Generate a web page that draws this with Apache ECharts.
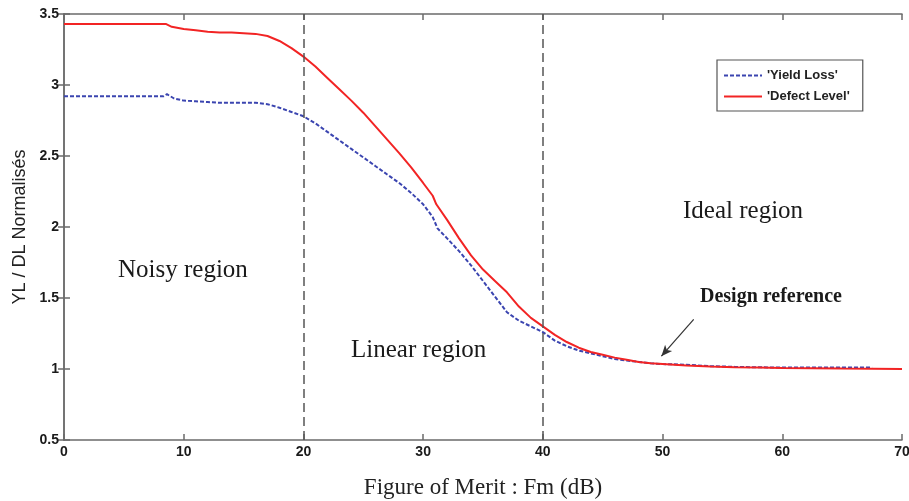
<!DOCTYPE html>
<html>
<head>
<meta charset="utf-8">
<script src="https://cdn.jsdelivr.net/npm/echarts@6/dist/echarts.min.js"></script>
<style>
  html, body { margin: 0; padding: 0; background: #fff; }
  #chart { width: 909px; height: 501px; }
</style>
</head>
<body>
<div id="chart"></div>
<script>
// Figure of merit (dB) and normalised yield loss / defect level
var fmYield = [0, 8.3, 8.6, 9.2, 10, 11, 12, 13, 14, 15, 16, 17, 18, 19, 20, 21, 22, 23, 24, 25,
  26, 27, 28, 29, 30, 30.8, 31.2, 32, 33, 34, 35, 36, 37, 38, 39, 40, 41, 42, 43, 44, 45, 46,
  47, 48, 49, 50, 52, 54, 56, 58, 60, 62, 64, 67.5]
var yieldLoss = [2.92, 2.92, 2.935, 2.905, 2.89, 2.885, 2.88, 2.875, 2.875, 2.875, 2.875, 2.865,
  2.84, 2.81, 2.78, 2.73, 2.67, 2.61, 2.55, 2.49, 2.43, 2.37, 2.31, 2.24, 2.16, 2.07, 1.99, 1.92,
  1.83, 1.73, 1.62, 1.51, 1.40, 1.34, 1.30, 1.26, 1.20, 1.16, 1.13, 1.11, 1.09, 1.07, 1.06, 1.05,
  1.04, 1.035, 1.03, 1.02, 1.015, 1.012, 1.01, 1.01, 1.01, 1.01]

var fmDefect = [0, 8.5, 9, 10, 11, 12, 13, 14, 15, 16, 17, 18, 19, 20, 21, 22, 23, 24, 25, 26, 27,
  28, 29, 30, 30.8, 31.1, 32, 33, 34, 35, 36, 37, 38, 39, 40, 41, 42, 43, 44, 45, 46, 47, 48, 49,
  50, 52, 54, 56, 58, 60, 65, 70]
var defectLevel = [3.43, 3.43, 3.41, 3.395, 3.385, 3.375, 3.37, 3.37, 3.365, 3.36, 3.345, 3.31,
  3.26, 3.20, 3.13, 3.05, 2.97, 2.89, 2.805, 2.71, 2.615, 2.52, 2.42, 2.31, 2.22, 2.16, 2.05, 1.92,
  1.80, 1.70, 1.62, 1.54, 1.44, 1.36, 1.30, 1.24, 1.19, 1.15, 1.12, 1.10, 1.08, 1.065, 1.05, 1.04,
  1.035, 1.025, 1.018, 1.013, 1.01, 1.007, 1.003, 1.0]

var regionBounds = [20, 40]
var arrowFrom = [52.6, 1.35]
var arrowTo = [49.9, 1.09]

function pairs(xs, ys) {
  return xs.map(function (x, i) { return [x, ys[i]] })
}

var chart = echarts.init(document.getElementById('chart'))

var axisGray = { color: '#6b6b6b', width: 1.5 }
var tickFont = { color: '#1a1a1a', fontFamily: 'Liberation Sans', fontWeight: 'bold', fontSize: 14 }
var serifFont = '25px "Liberation Serif"'

chart.setOption({
  animation: false,
  grid: { left: 64, top: 14, right: 7, bottom: 61, outerBoundsMode: 'none', containLabel: false },
  legend: {
    left: 717,
    top: 60,
    orient: 'vertical',
    itemWidth: 38,
    itemHeight: 12,
    itemGap: 8,
    padding: [9, 13, 8, 6],
    borderColor: '#555',
    borderWidth: 1.2,
    itemStyle: { opacity: 0 },
    textStyle: { fontFamily: 'Liberation Sans', fontWeight: 'bold', fontSize: 13, color: '#222' },
    data: ["'Yield Loss'", "'Defect Level'"]
  },
  xAxis: [
    {
      type: 'value', min: 0, max: 70, interval: 10,
      name: 'Figure of Merit : Fm (dB)',
      nameLocation: 'middle', nameGap: 36,
      nameTextStyle: { fontFamily: 'Liberation Serif', fontSize: 23, color: '#222' },
      axisLine: { lineStyle: axisGray },
      axisTick: { inside: true, length: 6, lineStyle: axisGray },
      axisLabel: Object.assign({ margin: 5 }, tickFont),
      splitLine: { show: false }
    },
    {
      type: 'value', min: 0, max: 70, interval: 10, position: 'top',
      axisLine: { lineStyle: axisGray },
      axisTick: { inside: true, length: 6, lineStyle: axisGray },
      axisLabel: { show: false },
      splitLine: { show: false }
    }
  ],
  yAxis: [
    {
      type: 'value', min: 0.5, max: 3.5, interval: 0.5,
      name: 'YL / DL Normalisés',
      nameLocation: 'middle', nameGap: 32, nameRotate: 90,
      nameTextStyle: { fontFamily: 'Liberation Sans', fontSize: 18, color: '#222' },
      axisLine: { lineStyle: axisGray },
      axisTick: { inside: true, length: 6, lineStyle: axisGray },
      axisLabel: Object.assign({ margin: 5 }, tickFont),
      splitLine: { show: false }
    },
    {
      type: 'value', min: 0.5, max: 3.5, interval: 0.5, position: 'right',
      axisLine: { lineStyle: axisGray },
      axisTick: { inside: true, length: 6, lineStyle: axisGray },
      axisLabel: { show: false },
      splitLine: { show: false }
    }
  ],
  series: [
    {
      name: "'Yield Loss'",
      type: 'line',
      symbol: 'none',
      data: pairs(fmYield, yieldLoss),
      lineStyle: { color: '#3b45b0', width: 2, type: [4, 2] },
      itemStyle: { color: '#3b45b0' },
      z: 2
    },
    {
      name: "'Defect Level'",
      type: 'line',
      symbol: 'none',
      data: pairs(fmDefect, defectLevel),
      lineStyle: { color: '#f22424', width: 2 },
      itemStyle: { color: '#f22424' },
      z: 3,
      markLine: {
        silent: true,
        symbol: 'none',
        label: { show: false },
        lineStyle: { color: '#555', width: 1.5, type: [9, 5] },
        data: regionBounds.map(function (v) { return { xAxis: v } }).concat([
          [
            { coord: arrowFrom, symbol: 'none', lineStyle: { color: '#333', width: 1.2, type: 'solid' } },
            { coord: arrowTo, symbol: 'arrow', symbolSize: [7, 11] }
          ]
        ])
      }
    }
  ],
  graphic: [
    { type: 'text', left: 118, top: 258, style: { text: 'Noisy region', font: serifFont, fill: '#1a1a1a' } },
    { type: 'text', left: 351, top: 338, style: { text: 'Linear region', font: serifFont, fill: '#1a1a1a' } },
    { type: 'text', left: 683, top: 199, style: { text: 'Ideal region', font: serifFont, fill: '#1a1a1a' } },
    { type: 'text', left: 700, top: 287, style: { text: 'Design reference', font: 'bold 20px "Liberation Serif"', fill: '#1a1a1a' } }
  ]
})
</script>
</body>
</html>
